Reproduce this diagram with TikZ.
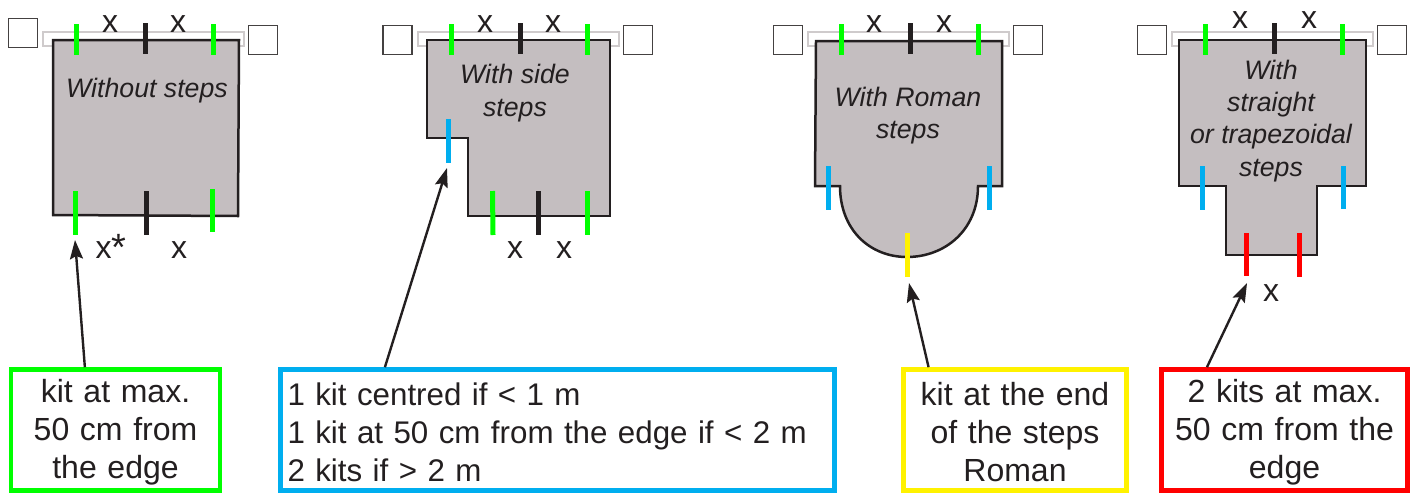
\documentclass[tikz,border=0pt]{standalone}
\usepackage{fontspec}
\setmainfont{Liberation Sans}
\usetikzlibrary{arrows.meta}
\definecolor{planFill}{HTML}{C4BEC0}
\definecolor{planLine}{HTML}{231F20}
\definecolor{planBar}{HTML}{CFCBCC}
\definecolor{kitGreen}{HTML}{00FF00}
\definecolor{kitBlue}{HTML}{00AEEF}
\definecolor{kitYellow}{HTML}{FFF200}
\definecolor{kitRed}{HTML}{FF0000}
\begin{document}
\begin{tikzpicture}[
    x=1pt,y=-1pt,
    every node/.style={align=center,inner sep=0pt,text=planLine},
    plan/.style={draw=planLine,fill=planFill,line width=2.5pt,line join=miter},
    bar/.style={draw=planBar,fill=white,line width=1.5pt},
    post/.style={draw=planLine!85,fill=white,line width=1.2pt,minimum size=29pt},
    planlabel/.style={anchor=base,font=\fontsize{26.7}{32.3}\selectfont\itshape},
    dim/.style={anchor=base,font=\fontsize{32}{32}\selectfont},
    kit/.style={line width=5pt},
    legend/.style={fill=white,line width=4.6pt,font=\fontsize{32}{38}\selectfont,minimum height=121pt,execute at begin node={\rule{0pt}{27pt}}},
    flow/.style={-{Stealth[length=19pt,width=13pt,inset=3pt]},draw=planLine,line width=2.4pt}
]
\useasboundingbox (0,0) rectangle (1410,493);

% without steps
\draw[bar] (43,32) rectangle (244,46);
\draw[plan] (53,40) -- (239,40) -- (238,216) -- (53,215) -- cycle;
\node[post] (postA) at (23,33) {};
\node[post] (postB) at (263,40) {};
\node[planlabel] (labelA) at (147,97) {Without steps};
\node[dim] (dimAa) at (110,32) {x};
\node[dim] (dimAb) at (178,32) {x};
\node[dim] (dimAc) at (111,258) {x{\fontsize{38}{38}\selectfont\raisebox{-2pt}{*}}};
\node[dim] (dimAd) at (179,258) {x};
\draw[kit,kitGreen] (76.5,24) -- (76.5,55);
\draw[kit,planLine] (145.5,23) -- (145.5,54);
\draw[kit,kitGreen] (213,24) -- (213,55);
\draw[kit,kitGreen] (75,191) -- (75,235);
\draw[kit,planLine] (146.5,191) -- (146.5,235);
\draw[kit,kitGreen] (212,189) -- (212,232);

% with side steps
\draw[bar] (418,32) rectangle (619,46);
\draw[plan] (427,40) -- (610,40) -- (610,216) -- (468,216) -- (468,138) -- (427,138) -- cycle;
\node[post] (postC) at (397.5,40) {};
\node[post] (postD) at (638,40) {};
\node[planlabel] (labelBa) at (515,83.5) {With side};
\node[planlabel] (labelBb) at (515,116) {steps};
\node[dim] (dimBa) at (485,32) {x};
\node[dim] (dimBb) at (553,32) {x};
\node[dim] (dimBc) at (515,258) {x};
\node[dim] (dimBd) at (564,258) {x};
\draw[kit,kitGreen] (451,24) -- (451,55);
\draw[kit,planLine] (520.5,23) -- (520.5,54);
\draw[kit,kitGreen] (587.5,24) -- (587.5,55);
\draw[kit,kitBlue] (448,119) -- (448,163);
\draw[kit,kitGreen] (492.5,191) -- (493,235);
\draw[kit,planLine] (538.5,191) -- (538.5,235);
\draw[kit,kitGreen] (587,191) -- (587,235);

% with roman steps
\draw[bar] (808,32) rectangle (1009,46);
\draw[plan] (816,41) -- (1002,41) -- (1002,186) -- (978,186)
    .. controls (978,230) and (945,257) .. (907,257)
    .. controls (870,257) and (840,230) .. (840,186) -- (815,186) -- cycle;
\node[post] (postE) at (788,40) {};
\node[post] (postF) at (1028,40) {};
\node[planlabel] (labelCa) at (908,106) {With Roman};
\node[planlabel] (labelCb) at (908,138) {steps};
\node[dim] (dimCa) at (874,32) {x};
\node[dim] (dimCb) at (944,32) {x};
\draw[kit,kitGreen] (841,24) -- (841,55);
\draw[kit,planLine] (910.5,23) -- (910.5,54);
\draw[kit,kitGreen] (978,24) -- (978,55);
\draw[kit,kitBlue] (828,166) -- (828,210);
\draw[kit,kitBlue] (989,166) -- (989,210);
\draw[kit,kitYellow] (907.5,233) -- (907.5,277);

% with straight or trapezoidal steps
\draw[bar] (1172,32) rectangle (1373,46);
\draw[plan] (1179,40) -- (1366,40) -- (1366,186) -- (1317,186) -- (1317,255) -- (1226,255) -- (1226,186) -- (1179,186) -- cycle;
\node[post] (postG) at (1152,40) {};
\node[post] (postH) at (1392,40) {};
\node[planlabel] (labelDa) at (1271,79) {With};
\node[planlabel] (labelDb) at (1271,111) {straight};
\node[planlabel] (labelDc) at (1271,143.5) {or trapezoidal};
\node[planlabel] (labelDd) at (1271,176) {steps};
\node[dim] (dimDa) at (1240,28) {x};
\node[dim] (dimDb) at (1309,28) {x};
\node[dim] (dimDc) at (1271,301) {x};
\draw[kit,kitGreen] (1205.5,24) -- (1205.5,55);
\draw[kit,planLine] (1274.5,23) -- (1274.5,54);
\draw[kit,kitGreen] (1342,24) -- (1342,55);
\draw[kit,kitBlue] (1202,166) -- (1202,210);
\draw[kit,kitBlue] (1343,166) -- (1343,209);
\draw[kit,kitRed] (1246,233) -- (1246,276);
\draw[kit,kitRed] (1299,233) -- (1299,277);

% legend boxes
\node[legend,draw=kitGreen,text width=209pt] (greenbox) at (115.5,430) {kit at max.\\50 cm from\\the edge};
\node[legend,draw=kitBlue,text width=540pt,inner xsep=7pt,align=left,font=\fontsize{31.3}{38}\selectfont] (bluebox) at (557.5,430) {1 kit centred if < 1 m\\1 kit at 50 cm from the edge if < 2 m\\2 kits if > 2 m};
\node[legend,draw=kitYellow,text width=223.5pt] (yellowbox) at (1015,430) {kit at the end\\of the steps\\Roman};
\node[legend,draw=kitRed,text width=246.5pt] (redbox) at (1284.5,430) {2 kits at max.\\50 cm from the\\edge};

\coordinate (greentip) at (75,240);
\coordinate (bluetip) at (447,168);
\coordinate (yellowtip) at (909,283);
\coordinate (redtip) at (1247,283);
\draw[flow] (greenbox.116.7) -- (greentip);
\draw[flow] (bluebox.160.8) -- (bluetip);
\draw[flow] (yellowbox.144.5) -- (yellowtip);
\draw[flow] (redbox.141.6) -- (redtip);
\end{tikzpicture}
\end{document}
